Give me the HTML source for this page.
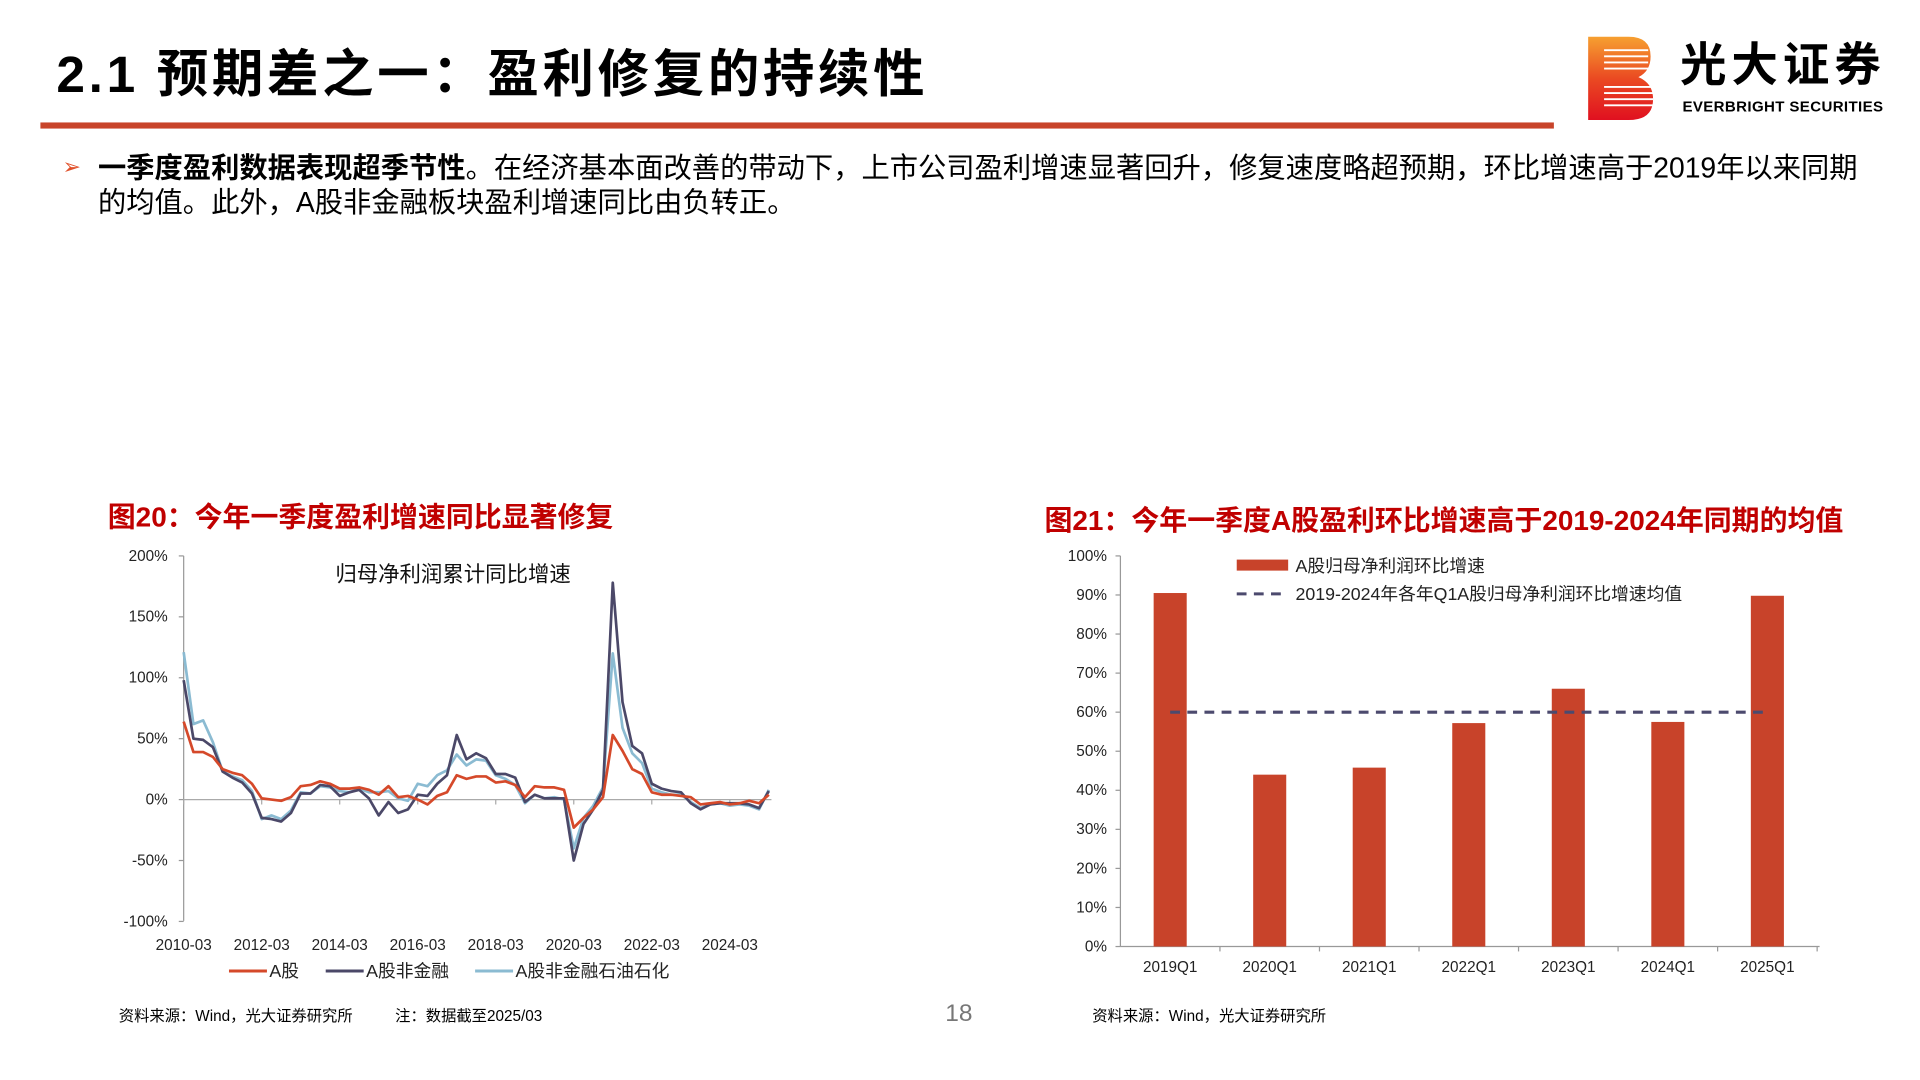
<!DOCTYPE html>
<html><head><meta charset="utf-8">
<style>
html,body{margin:0;padding:0;background:#fff;width:1920px;height:1080px;overflow:hidden}
#wrap{position:absolute;left:0;top:0;width:1568px;height:882px;transform:scale(1.22449);transform-origin:0 0;font-family:"Liberation Sans","Noto Sans CJK SC",sans-serif;color:#000}
.abs{position:absolute;white-space:nowrap}
</style></head>
<body>
<div id="wrap">
  <div class="abs" style="left:46px;top:27px;font-size:42px;font-weight:bold;letter-spacing:3px">2.1 预期差之一：盈利修复的持续性</div>
  <div class="abs" style="left:33px;top:100px;width:1236px;height:5px;background:#c8442a"></div>
  <svg class="abs" style="left:1296px;top:29px" width="56" height="70" viewBox="0 0 56 70">
    <defs><linearGradient id="lg" x1="0" y1="0" x2="0" y2="1"><stop offset="0" stop-color="#f6a030"/><stop offset="0.5" stop-color="#ea4a22"/><stop offset="1" stop-color="#e01020"/></linearGradient></defs>
    <path d="M1 1 H34 Q52 1 52 17 Q52 29 42 34 Q54 39 54 52 Q54 69 34 69 H1 Z" fill="url(#lg)"/>
    <g stroke="#fff" stroke-width="1.6">
      <line x1="14" y1="12" x2="50" y2="12"/><line x1="14" y1="17" x2="50" y2="17"/><line x1="14" y1="22" x2="50" y2="22"/><line x1="14" y1="27" x2="50" y2="27"/>
      <line x1="14" y1="42" x2="54" y2="42"/><line x1="14" y1="47" x2="54" y2="47"/><line x1="14" y1="52" x2="54" y2="52"/><line x1="14" y1="57" x2="54" y2="57"/>
    </g>
  </svg>
  <div class="abs" style="left:1372px;top:32px;font-size:38px;line-height:44px;font-weight:bold;letter-spacing:4px">光大证券</div>
  <div class="abs" style="left:1374px;top:80px;font-size:12.3px;line-height:14px;font-weight:bold;letter-spacing:0.3px">EVERBRIGHT SECURITIES</div>

  <div class="abs" style="left:51px;top:126px;font-size:18px;color:#e0502a">➢</div>
  <div class="abs" style="left:80px;top:123px;font-size:23.1px;line-height:28px;white-space:normal;width:1450px"><b>一季度盈利数据表现超季节性</b>。在经济基本面改善的带动下，上市公司盈利增速显著回升，修复速度略超预期，环比增速高于2019年以来同期的均值。此外，A股非金融板块盈利增速同比由负转正。</div>

  <div class="abs" style="left:88px;top:404px;font-size:22.8px;font-weight:bold;color:#c00000">图20：今年一季度盈利增速同比显著修复</div>
  <div class="abs" style="left:853px;top:407px;font-size:22.8px;font-weight:bold;color:#c00000">图21：今年一季度A股盈利环比增速高于2019-2024年同期的均值</div>

  <div class="abs" style="left:97px;top:819px;font-size:12.5px">资料来源：Wind，光大证券研究所&nbsp;&nbsp;&nbsp;&nbsp;&nbsp;&nbsp;&nbsp;&nbsp;&nbsp;&nbsp;注：数据截至2025/03</div>
  <div class="abs" style="left:772px;top:817px;font-size:20px;color:#777">18</div>
  <div class="abs" style="left:892px;top:819px;font-size:12.5px">资料来源：Wind，光大证券研究所</div>

  <svg id="chartL" class="abs" style="left:0;top:0" width="800" height="882"></svg>
  <svg id="chartR" class="abs" style="left:800px;top:0" width="768" height="882"></svg>
</div>
<script>
const NS="http://www.w3.org/2000/svg";
// ---- Left chart data ----
const lineDates=["2010-03","2012-03","2014-03","2016-03","2018-03","2020-03","2022-03","2024-03"];
const yTicksL=[200,150,100,50,0,-50,-100];
const seriesNames=["A股","A股非金融","A股非金融石油石化"];
const seriesA=[64,39,39,35,25,22,20,13,1,0,-1,2,11,12,15,13,9,9,10,8,4,11,2,3,0,-4,3,6,20,17,19,19,14,15,12,2,11,10,10,8,-23,-15,-8,2,53,40,25,21,6,4,4,3,2,-4,-3,-2,-4,-3,-1,-3,4];
const seriesNF=[98,50,49,43,23,18,14,5,-15,-16,-18,-11,5,5,12,11,3,6,8,1,-13,-2,-11,-8,4,3,13,20,53,33,38,34,21,21,18,-2,4,1,1,1,-50,-20,-8,8,178,80,44,38,13,9,7,6,-3,-8,-4,-3,-3,-3,-4,-7,7];
const seriesNFP=[121,62,65,47,23,19,16,7,-16,-13,-16,-9,6,5,11,10,7,6,9,6,6,7,1,-1,13,11,20,24,37,28,33,32,20,17,12,-3,4,1,2,0,-40,-15,-5,10,120,59,38,30,9,6,4,4,-2,-7,-4,-3,-5,-4,-5,-8,8];
// ---- Right chart data ----
const barCats=["2019Q1","2020Q1","2021Q1","2022Q1","2023Q1","2024Q1","2025Q1"];
const barVals=[90.5,44,45.8,57.2,66,57.5,89.8];
const avgVal=[60];
const yTicksR=[0,10,20,30,40,50,60,70,80,90,100];

function mk(parent,tag,attrs,text){const e=document.createElementNS(NS,tag);for(const k in attrs)e.setAttribute(k,attrs[k]);if(text!==undefined)e.textContent=text;parent.appendChild(e);return e;}
const FONT='"Liberation Sans","Noto Sans CJK SC",sans-serif';

// Left chart
(function(){
  const s=document.getElementById('chartL');
  const x0=150,dx=(596-150)/56;
  const yL=v=>653-v*(199/200);
  const xL=i=>x0+i*dx;
  mk(s,'line',{x1:150,y1:454,x2:150,y2:752,stroke:'#999','stroke-width':1});
  yTicksL.forEach(t=>{
    const tk=mk(s,'line',{x1:146,x2:150,y1:yL(t),y2:yL(t),stroke:'#999'});
    
    
    const lb=mk(s,'text',{x:137,y:yL(t)+4,'text-anchor':'end','font-size':12.5,'font-family':FONT,fill:'#222'},t+'%');
    
    
  });
  mk(s,'line',{x1:150,y1:yL(0),x2:630,y2:yL(0),stroke:'#aaa','stroke-width':1});
  lineDates.forEach((d,k)=>{
    const x=xL(k*8);
    const tk=mk(s,'line',{x1:x,x2:x,y1:yL(0),y2:yL(0)+4,stroke:'#aaa'});
    
    
    const lb=mk(s,'text',{x:x,y:776,'text-anchor':'middle','font-size':12.5,'font-family':FONT,fill:'#222'},d);
    
    
  });
  const it=mk(s,'text',{x:370,y:475,'text-anchor':'middle','font-size':17.5,'font-family':FONT,fill:'#111'},'归母净利润累计同比增速');
  
  
  const cols=['#d5492a','#4b4868','#8bbbd2'];
  const data=[seriesA,seriesNF,seriesNFP];
  [2,1,0].forEach(j=>{
    const p=mk(s,'polyline',{points:data[j].map((v,i)=>xL(i)+','+yL(v)).join(' '),fill:'none',stroke:cols[j],'stroke-width':2.2,'stroke-linejoin':'round'});
    
    
  });
  const lx=[187,266,388];
  seriesNames.forEach((n,j)=>{
    const l=mk(s,'line',{x1:lx[j],x2:lx[j]+31,y1:793,y2:793,stroke:cols[j],'stroke-width':2.5});
    
    
    const t=mk(s,'text',{x:lx[j]+33,y:798,'font-size':14.5,'font-family':FONT,fill:'#222'},n);
    
    
  });
})();

// Right chart
(function(){
  const s=document.getElementById('chartR');
  const ox=-800;
  const yR=v=>773-v*3.19;
  const cw=(1484-915)/7;
  const xC=i=>915+cw*(i+0.5)+ox;
  mk(s,'line',{x1:915+ox,y1:454,x2:915+ox,y2:773,stroke:'#999'});
  mk(s,'line',{x1:915+ox,y1:773,x2:1486+ox,y2:773,stroke:'#999'});
  yTicksR.forEach(t=>{
    mk(s,'line',{x1:911+ox,x2:915+ox,y1:yR(t),y2:yR(t),stroke:'#999'});
    const lb=mk(s,'text',{x:904+ox,y:yR(t)+4,'text-anchor':'end','font-size':12.5,'font-family':FONT,fill:'#222'},t+'%');
    
    
  });
  for(let i=1;i<=7;i++){mk(s,'line',{x1:915+cw*i+ox,x2:915+cw*i+ox,y1:773,y2:777,stroke:'#999'});}
  barCats.forEach((c,i)=>{
    const r=mk(s,'rect',{x:xC(i)-13.5,y:yR(barVals[i]),width:27,height:yR(0)-yR(barVals[i]),fill:'#c8432a'});
    
    
    const lb=mk(s,'text',{x:xC(i),y:794,'text-anchor':'middle','font-size':12.5,'font-family':FONT,fill:'#222'},c);
    
    
  });
  const av=mk(s,'line',{x1:xC(0),x2:xC(6),y1:yR(avgVal[0]),y2:yR(avgVal[0]),stroke:'#4c4a6e','stroke-width':2.5,'stroke-dasharray':'8,6'});
  
  
  const lr=mk(s,'rect',{x:1010+ox,y:457,width:42,height:9,fill:'#c8432a'});
  
  
  const t1=mk(s,'text',{x:1058+ox,y:467,'font-size':14.5,'font-family':FONT,fill:'#222'},'A股归母净利润环比增速');
  
  
  const ld=mk(s,'line',{x1:1010+ox,x2:1052+ox,y1:485,y2:485,stroke:'#4c4a6e','stroke-width':2.5,'stroke-dasharray':'8,6'});
  
  
  const t2=mk(s,'text',{x:1058+ox,y:490,'font-size':14.5,'font-family':FONT,fill:'#222'},'2019-2024年各年Q1A股归母净利润环比增速均值');
  
  
})();
</script>
</body></html>
